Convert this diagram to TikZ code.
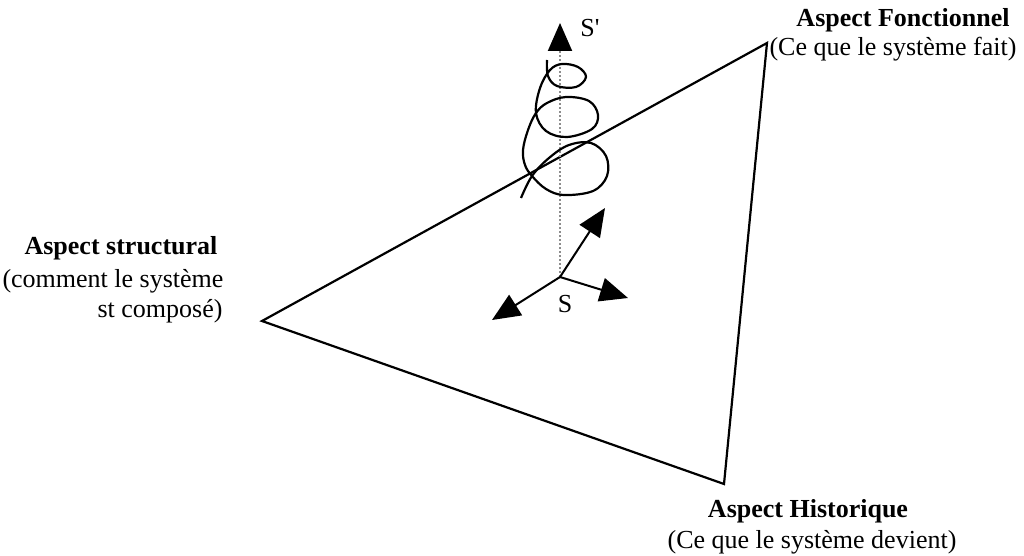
\documentclass[tikz,border=0pt]{standalone}
\usepackage{fontspec}
\setmainfont{Liberation Serif}
\newfontfamily\rawserif{Liberation Serif}
\usetikzlibrary{arrows.meta, positioning}

\begin{document}
\begin{tikzpicture}[
  x=0.5pt, y=-0.5pt,
  font=\fontsize{13}{15}\selectfont,
  edge/.style={line width=1.1pt, line join=miter},
  axis/.style={-{Triangle[length=14pt, width=12pt]}, line width=1pt},
  zaxis/.style={-{Triangle[length=14pt, width=12pt, color=black]},
                draw=black!45, densely dotted, line width=1pt},
  helix/.style={line width=1.1pt},
  lbl/.style={anchor=base, inner sep=0pt},
  ttl/.style={lbl, font=\fontsize{13}{15}\selectfont\bfseries}
]
\useasboundingbox (0,0) rectangle (1024,556);

% ---------------- Triangle ----------------
\coordinate (struct) at (262,321);
\coordinate (fonct)  at (767,43);
\coordinate (hist)   at (724,484);
\draw[edge] (struct) -- (fonct) -- (hist) -- cycle;

% ---------------- Frame at S ----------------
\coordinate (O)  at (560,277);
\coordinate (Sp) at (560,23);
\coordinate (ax) at (605,208);
\coordinate (ay) at (628,298);
\coordinate (az) at (492,320);
\draw[zaxis] (O) -- (Sp);
\draw[axis] (O) -- (ax);
\draw[axis] (O) -- (ay);
\draw[axis] (O) -- (az);
\node[lbl] (s)  at (565,313) {S};
\node[lbl, anchor=base west, font=\fontsize{13}{15}\rawserif] (sp) at (580,37) {S'};

% ---------------- Helix ----------------
\draw[helix] plot[smooth, tension=0.6] coordinates {
  (547,60) (548,76) (557,86) (576,87) (586,77) (578,67) (562,64) (550,70)
  (540,88) (536,113) (546,131) (567,137) (592,129) (598,115) (589,101)
  (566,97) (547,103) (536,113) (528,130) (523,150) (525,165) (532,176)
  (546,189) (564,195) (593,191) (607,176) (606,156) (591,143) (569,145)
  (549,158) (532,176) (521,198)};

% ---------------- Labels ----------------
\node[ttl] (fon1) at (903,27)  {Aspect Fonctionnel};
\node[lbl] (fon2) at (893,56)  {(Ce que le système fait)};
\node[ttl] (str1) at (121,255) {Aspect structural};
\node[lbl] (str2) at (113,287) {(comment le système};
\node[lbl] (str3) at (160,317) {st composé)};
\node[ttl] (his1) at (808,517) {Aspect Historique};
\node[lbl] (his2) at (812,548) {(Ce que le système devient)};

\end{tikzpicture}
\end{document}
